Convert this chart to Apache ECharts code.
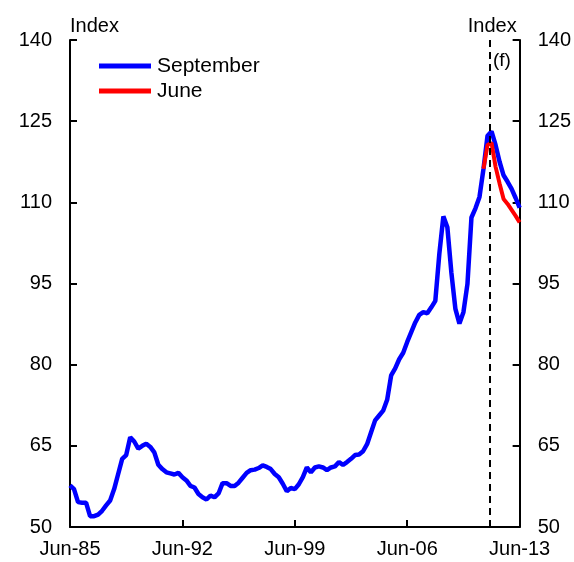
<!DOCTYPE html>
<html>
<head>
<meta charset="utf-8">
<script src="https://cdn.jsdelivr.net/npm/echarts@6/dist/echarts.min.js"></script>
<style>html,body{margin:0;padding:0;background:#fff}#c{width:574px;height:562px}</style>
</head>
<body>
<div id="c"></div>
<script>
// Quarterly terms of trade index, Jun-85 .. Jun-13 (113 quarters)
const tickLabels = ['Jun-85', 'Jun-92', 'Jun-99', 'Jun-06', 'Jun-13'];
const september = [
  57.7, 57.0, 54.6, 54.5, 54.5, 52.0, 52.0, 52.3, 53.0, 54.0,
  54.9, 57.0, 59.8, 62.6, 63.3, 66.6, 65.8, 64.5, 65.0, 65.4,
  64.8, 63.8, 61.5, 60.7, 60.1, 59.9, 59.7, 60.0, 59.2, 58.6,
  57.6, 57.3, 56.1, 55.5, 55.1, 55.8, 55.5, 56.2, 58.1, 58.1,
  57.6, 57.6, 58.2, 59.1, 60.0, 60.5, 60.6, 60.9, 61.4, 61.1,
  60.7, 59.8, 59.2, 58.0, 56.6, 57.2, 57.0, 57.9, 59.2, 61.0,
  60.1, 61.0, 61.2, 61.0, 60.5, 61.0, 61.2, 62.0, 61.5, 62.0,
  62.6, 63.3, 63.4, 64.0, 65.3, 67.5, 69.7, 70.6, 71.5, 73.5,
  78.0, 79.3, 81.0, 82.2, 84.2, 86.0, 87.8, 89.2, 89.7, 89.5,
  90.6, 91.8, 100.5, 107.4, 105.4, 97.0, 90.3, 87.6, 89.7, 94.9,
  107.2, 108.9, 111.0, 116.2, 122.3, 123.1, 120.6, 117.5, 115.0, 113.8,
  112.5, 110.8, 109.0
];
const juneStart = 103; // quarter index where the June series diverges
const june = [116.2, 120.6, 121.0, 116.6, 113.5, 110.6, 109.7, 108.6, 107.5, 106.3];
const forecastAt = 104.6; // quarter position of the forecast divider
const yTicks = [50, 65, 80, 95, 110, 125, 140];

const sepData = september.map((v, i) => [i, v]);
const junData = june.map((v, i) => [juneStart + i, v]);
const lastQ = september.length - 1;
const FONT = 'Liberation Sans';

const yAxisBase = (pos) => ({
  type: 'value', position: pos, min: yTicks[0], max: yTicks[yTicks.length - 1], interval: 15,
  name: 'Index', nameLocation: 'end', nameGap: 4,
  nameTextStyle: { color: '#000', fontFamily: FONT, fontSize: 20, align: pos === 'left' ? 'left' : 'right', padding: pos === 'left' ? [0, 0, 0, 0] : [0, 3, 0, 0] },
  axisLine: { show: true, lineStyle: { color: '#000', width: 2 } },
  axisTick: { show: true, inside: true, length: 7, lineStyle: { color: '#000', width: 2 } },
  axisLabel: { color: '#000', fontFamily: FONT, fontSize: 20, margin: 18 },
  splitLine: { show: false }
});

const chart = echarts.init(document.getElementById('c'), null, { renderer: 'canvas' });
chart.setOption({
  animation: false,
  backgroundColor: '#fff',
  grid: { left: 70, right: 54, top: 40, bottom: 35, containLabel: false },
  legend: {
    data: ['September', 'June'], orient: 'vertical', left: 99, top: 54, padding: 0,
    icon: 'rect', itemWidth: 52, itemHeight: 5, itemGap: 1,
    textStyle: { color: '#000', fontFamily: FONT, fontSize: 21, lineHeight: 24, padding: [0, 0, 0, 1] }
  },
  xAxis: {
    type: 'value', min: 0, max: lastQ, interval: 28,
    axisLine: { lineStyle: { color: '#000', width: 2 } },
    axisTick: { inside: true, length: 7, lineStyle: { color: '#000', width: 2 } },
    axisLabel: { color: '#000', fontFamily: FONT, fontSize: 20, margin: 12,
      formatter: (v) => tickLabels[Math.round(v / 28)] || '' },
    splitLine: { show: false }
  },
  yAxis: [yAxisBase('left'), yAxisBase('right')],
  graphic: [{
    type: 'text', left: 493, top: 51,
    style: { text: '(f)', fill: '#000', font: '19px "Liberation Sans"' }
  }],
  series: [
    {
      name: 'September', type: 'line', data: sepData, showSymbol: false, symbol: 'none', z: 2,
      lineStyle: { color: '#0000FF', width: 4.5 }, itemStyle: { color: '#0000FF' },
      markLine: {
        silent: true, symbol: 'none', label: { show: false },
        lineStyle: { color: '#000', type: [7, 5], width: 2 },
        data: [{ xAxis: forecastAt }]
      }
    },
    {
      name: 'June', type: 'line', data: junData, showSymbol: false, symbol: 'none', z: 3,
      lineStyle: { color: '#FF0000', width: 4 }, itemStyle: { color: '#FF0000' }
    }
  ]
});
</script>
</body>
</html>
